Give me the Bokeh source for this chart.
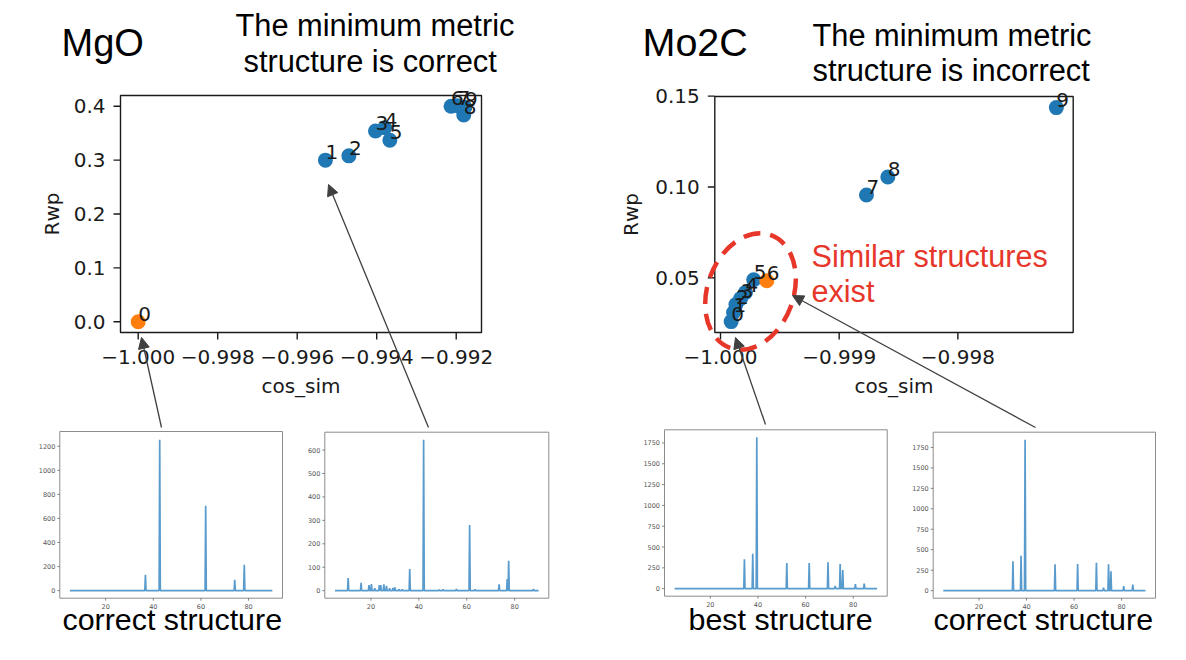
import math
from bokeh.plotting import figure
from bokeh.models import Range1d, Arrow, NormalHead
from bokeh.core.properties import value
from bokeh.embed import file_html
from bokeh.resources import INLINE

# ------------------------------------------------------------------ data
# MgO scatter (cos_sim vs Rwp), index = point label
mgo_cos_sim = [-1.00000, -0.99529, -0.99470, -0.99403, -0.99380, -0.99367,
               -0.99213, -0.99197, -0.99181, -0.99178]
mgo_rwp = [0.000, 0.300, 0.308, 0.354, 0.360, 0.337, 0.400, 0.401, 0.384, 0.398]
mgo_best = 0

# Mo2C scatter
mo2c_cos_sim = [-0.99991, -0.99989, -0.99987, -0.99983, -0.99979, -0.99972,
                -0.99961, -0.99877, -0.99859, -0.99717]
mo2c_rwp = [0.0259, 0.0309, 0.0353, 0.0386, 0.0419, 0.0489, 0.0484,
            0.0956, 0.1055, 0.1437]
mo2c_best = 6

# axis limits and ticks of the two scatter panels
mgo_xlim = (-1.000445, -0.991364)
mgo_ylim = (-0.02, 0.42)
mgo_xticks = [-1.000, -0.998, -0.996, -0.994, -0.992]
mgo_xtick_labels = ["\u22121.000", "\u22120.998", "\u22120.996", "\u22120.994", "\u22120.992"]
mgo_yticks = [0.0, 0.1, 0.2, 0.3, 0.4]
mgo_ytick_labels = ["0.0", "0.1", "0.2", "0.3", "0.4"]

mo2c_xlim = (-1.000048, -0.997028)
mo2c_ylim = (0.0199, 0.1498)
mo2c_xticks = [-1.000, -0.999, -0.998]
mo2c_xtick_labels = ["\u22121.000", "\u22120.999", "\u22120.998"]
mo2c_yticks = [0.05, 0.10, 0.15]
mo2c_ytick_labels = ["0.05", "0.10", "0.15"]

# XRD spectra: peak positions (2theta) and intensities
spec_xlim = (0.75, 94.25)
spec_span = (5, 90)
spec_xticks = [20, 40, 60, 80]

mgo_correct_pos = [36.7, 42.7, 62.0, 74.2, 78.2]
mgo_correct_int = [132, 1255, 705, 90, 215]
mgo_correct_ylim = (-63, 1323)
mgo_correct_yticks = [0, 200, 400, 600, 800, 1000, 1200]

mgo_best_pos = [10.5, 15.9, 19.2, 20.2, 21.6, 23.5, 24.1, 25.4, 26.5, 27.8, 29.2,
                30.0, 31.7, 33.1, 36.2, 42.0, 48.5, 50.1, 55.7, 61.2, 63.5,
                73.5, 76.9, 77.5, 87.8]
mgo_best_int = [54, 33, 24, 28, 10, 24, 24, 27, 20, 10, 12,
                14, 5, 5, 92, 644, 4, 5, 7, 280, 5,
                27, 50, 128, 7]
mgo_best_ylim = (-32.2, 676.2)
mgo_best_yticks = [0, 100, 200, 300, 400, 500, 600]

mo2c_best_pos = [34.3, 37.8, 39.5, 52.1, 61.5, 69.4, 72.4, 74.5, 75.6, 80.9, 84.6]
mo2c_best_int = [354, 418, 1817, 309, 309, 317, 32, 297, 225, 53, 60]
mo2c_best_ylim = (-90.85, 1907.85)

mo2c_correct_pos = [34.3, 37.7, 39.4, 52.0, 61.5, 69.4, 72.4, 74.5, 75.5, 80.9, 84.7]
mo2c_correct_int = [358, 427, 1844, 321, 326, 342, 37, 321, 236, 57, 73]
mo2c_correct_ylim = (-92.2, 1936.2)
mo2c_yticks_spec = [0, 250, 500, 750, 1000, 1250, 1500, 1750]

# ------------------------------------------------------------------ style
BLUE = "#1f77b4"
ORANGE = "#ff7f0e"
RED = "#e6372a"
INK = "#1a1a1a"
MPL_FONT = value("DejaVu Sans")
SLIDE_FONT = value("Liberation Sans")
LIFT = 0.4   # baseline correction, in em

W, H = 1170, 644
p = figure(width=W, height=H, x_range=Range1d(0, W), y_range=Range1d(H, 0),
           x_axis_location=None, y_axis_location=None, toolbar_location=None,
           output_backend="svg", min_border=0)
p.outline_line_color = None
p.background_fill_color = "white"
p.border_fill_color = "white"
p.xgrid.grid_line_color = None
p.ygrid.grid_line_color = None


def scatter_panel(box, xlim, ylim, xticks, xlabels, yticks, ylabels,
                  xs, ys, best, rwp_x, label_y):
    X0, X1, Yt, Yb = box
    fs = 20
    data = p.subplot(x_source=Range1d(*xlim), y_source=Range1d(*ylim),
                     x_target=Range1d(X0, X1), y_target=Range1d(Yb, Yt))
    xax = p.subplot(x_source=Range1d(*xlim), y_source=Range1d(Yb, Yt),
                    x_target=Range1d(X0, X1), y_target=Range1d(Yb, Yt))
    yax = p.subplot(x_source=Range1d(X0, X1), y_source=Range1d(*ylim),
                    x_target=Range1d(X0, X1), y_target=Range1d(Yb, Yt))
    others = [i for i in range(len(xs)) if i != best]
    data.scatter(x=[xs[i] for i in others], y=[ys[i] for i in others],
                 size=15, fill_color=BLUE, line_color=None)
    data.scatter(x=[xs[best]], y=[ys[best]], size=15, fill_color=ORANGE, line_color=None)
    data.text(x=xs, y=ys, text=[str(i) for i in range(len(xs))],
              text_font=MPL_FONT, text_font_size=f"{fs}px", text_color=INK,
              text_align="left", text_baseline="alphabetic", y_offset=-LIFT * fs)
    data.quad(left=[xlim[0]], right=[xlim[1]], bottom=[ylim[0]], top=[ylim[1]],
              fill_color=None, line_color=INK, line_width=1.4)
    n = len(xticks)
    xax.segment(x0=xticks, y0=[Yb] * n, x1=xticks, y1=[Yb + 7] * n,
                line_color=INK, line_width=1.4)
    xax.text(x=xticks, y=[Yb + 32] * n, text=xlabels, text_font=MPL_FONT,
             text_font_size=f"{fs}px", text_color=INK, text_align="center",
             text_baseline="alphabetic", y_offset=-LIFT * fs)
    m = len(yticks)
    yax.segment(x0=[X0] * m, y0=yticks, x1=[X0 - 7] * m, y1=yticks,
                line_color=INK, line_width=1.4)
    yax.text(x=[X0 - 15] * m, y=yticks, text=ylabels, text_font=MPL_FONT,
             text_font_size=f"{fs}px", text_color=INK, text_align="right",
             text_baseline="middle")
    p.text(x=[(X0 + X1) / 2], y=[label_y], text=["cos_sim"], text_font=MPL_FONT,
           text_font_size=f"{fs}px", text_color=INK, text_align="center",
           text_baseline="alphabetic", y_offset=-LIFT * fs)
    p.text(x=[rwp_x], y=[(Yb + Yt) / 2], text=["Rwp"], angle=math.pi / 2,
           text_font=MPL_FONT, text_font_size=f"{fs}px", text_color=INK,
           text_align="center", text_baseline="alphabetic")


def spectrum_panel(box, ylim, yticks, pos, inten, hw=0.25):
    X0, X1, Yt, Yb = box
    data = p.subplot(x_source=Range1d(*spec_xlim), y_source=Range1d(*ylim),
                     x_target=Range1d(X0, X1), y_target=Range1d(Yb, Yt))
    xax = p.subplot(x_source=Range1d(*spec_xlim), y_source=Range1d(Yb, Yt),
                    x_target=Range1d(X0, X1), y_target=Range1d(Yb, Yt))
    yax = p.subplot(x_source=Range1d(X0, X1), y_source=Range1d(*ylim),
                    x_target=Range1d(X0, X1), y_target=Range1d(Yb, Yt))
    lx, ly = [spec_span[0]], [0]
    for c, h in sorted(zip(pos, inten)):
        lx += [c - hw, c, c + hw]
        ly += [0, h, 0]
    lx.append(spec_span[1])
    ly.append(0)
    data.line(x=lx, y=ly, line_color="#2f82c0", line_width=1.7, line_alpha=0.8)
    data.quad(left=[spec_xlim[0]], right=[spec_xlim[1]], bottom=[ylim[0]], top=[ylim[1]],
              fill_color=None, line_color="#8c8c8c", line_width=1)
    n = len(spec_xticks)
    xax.segment(x0=spec_xticks, y0=[Yb] * n, x1=spec_xticks, y1=[Yb + 2.5] * n,
                line_color="#555555", line_width=0.7)
    xax.text(x=spec_xticks, y=[Yb + 8] * n, text=[str(t) for t in spec_xticks],
             text_font=MPL_FONT, text_font_size="6.5px", text_color="#555555",
             text_align="center", text_baseline="middle")
    m = len(yticks)
    yax.segment(x0=[X0] * m, y0=yticks, x1=[X0 - 2.5] * m, y1=yticks,
                line_color="#555555", line_width=0.7)
    yax.text(x=[X0 - 4.5] * m, y=yticks, text=[str(t) for t in yticks],
             text_font=MPL_FONT, text_font_size="6.5px", text_color="#555555",
             text_align="right", text_baseline="middle")


# scatter panels: box = (left, right, top, bottom) in page pixels
scatter_panel((120, 481, 95, 332), mgo_xlim, mgo_ylim, mgo_xticks, mgo_xtick_labels,
              mgo_yticks, mgo_ytick_labels, mgo_cos_sim, mgo_rwp, mgo_best, 51, 393)
scatter_panel((714.3, 1072.7, 96, 332), mo2c_xlim, mo2c_ylim, mo2c_xticks,
              mo2c_xtick_labels, mo2c_yticks, mo2c_ytick_labels, mo2c_cos_sim,
              mo2c_rwp, mo2c_best, 630, 393)

# spectra panels
spectrum_panel((59.3, 282, 431, 597.7), mgo_correct_ylim, mgo_correct_yticks,
               mgo_correct_pos, mgo_correct_int)
spectrum_panel((324.3, 548.3, 431.7, 597.7), mgo_best_ylim, mgo_best_yticks,
               mgo_best_pos, mgo_best_int)
spectrum_panel((664, 886.7, 429.3, 595.7), mo2c_best_ylim, mo2c_yticks_spec,
               mo2c_best_pos, mo2c_best_int)
spectrum_panel((932.7, 1155, 431.7, 597.7), mo2c_correct_ylim, mo2c_yticks_spec,
               mo2c_correct_pos, mo2c_correct_int)

# dashed ellipse around the similar structures
p.ellipse(x=[750], y=[291], width=[86], height=[120], angle=[math.radians(-20)],
          fill_color=None, line_color=RED, line_width=4.5, line_dash="17 10")


def slide_text(items, fs, color="black"):
    p.text(x=[t[1] for t in items], y=[t[2] for t in items], text=[t[0] for t in items],
           text_font=SLIDE_FONT, text_font_size=f"{fs}px", text_color=color,
           text_align="left", text_baseline="alphabetic", y_offset=-LIFT * fs)


slide_text([("MgO", 61, 58)], 38)
slide_text([("Mo2C", 642, 57)], 39.5)
slide_text([("The minimum metric", 235, 37), ("structure is correct", 243, 73),
            ("The minimum metric", 812, 47), ("structure is incorrect", 812, 82)], 30.8)
slide_text([("correct structure", 62, 631), ("best structure", 688, 631),
            ("correct structure", 933, 631)], 30.4)
slide_text([("Similar structures", 811, 268), ("exist", 811, 303)], 30.6, RED)

# arrows from spectra to points
arrows = [((161, 427), (141, 337)), ((428, 427), (328, 184)),
          ((765, 424), (735, 337)), ((1035, 427), (792, 295))]
for (xs_, ys_), (xe, ye) in arrows:
    p.add_layout(Arrow(x_start=xs_, y_start=ys_, x_end=xe, y_end=ye,
                       line_color="#404040", line_width=1.3,
                       end=NormalHead(size=11, fill_color="#404040",
                                      line_color="#404040", line_width=1)))

open("out.html", "w").write(file_html(p, INLINE))
